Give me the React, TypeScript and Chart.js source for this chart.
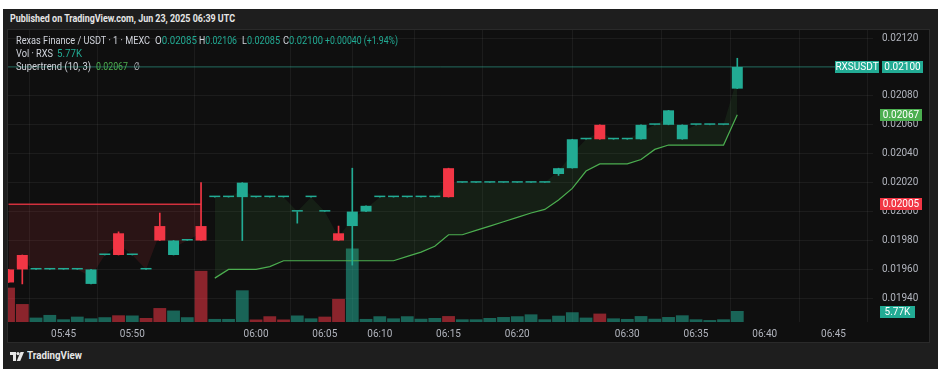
import React, { useEffect, useLayoutEffect, useRef } from "react";
import { Chart, registerables } from "chart.js";

Chart.register(...registerables);

// ---------------- DATA ----------------
const TIMES = [
  "05:41", "05:42", "05:43", "05:44", "05:45", "05:46", "05:47", "05:48", "05:49", "05:50",
  "05:51", "05:52", "05:53", "05:54", "05:56", "05:57", "05:58", "05:59", "06:00", "06:01",
  "06:02", "06:03", "06:04", "06:05", "06:06", "06:07", "06:09", "06:10", "06:11", "06:12",
  "06:13", "06:14", "06:15", "06:16", "06:17", "06:18", "06:19", "06:20", "06:21", "06:22",
  "06:23", "06:26", "06:27", "06:28", "06:29", "06:30", "06:31", "06:32", "06:33", "06:34",
  "06:35", "06:36", "06:37", "06:38",
];

const OPEN = [
  0.01960, 0.01970, 0.01960, 0.01960, 0.01960, 0.01960, 0.01950, 0.01970, 0.01985, 0.01970,
  0.01960, 0.01990, 0.01970, 0.01980, 0.01990, 0.02010, 0.02010, 0.02010, 0.02010, 0.02010,
  0.02010, 0.02000, 0.02010, 0.02000, 0.01985, 0.01990, 0.02000, 0.02010, 0.02010, 0.02010,
  0.02010, 0.02010, 0.02030, 0.02020, 0.02020, 0.02020, 0.02020, 0.02020, 0.02020, 0.02020,
  0.02026, 0.02030, 0.02050, 0.02060, 0.02050, 0.02050, 0.02050, 0.02060, 0.02060, 0.02050,
  0.02060, 0.02060, 0.02060, 0.02085,
];
const HIGH = [
  0.01960, 0.01970, 0.01960, 0.01960, 0.01960, 0.01960, 0.01960, 0.01970, 0.01986, 0.01970,
  0.01960, 0.01999, 0.01980, 0.01980, 0.02020, 0.02010, 0.02010, 0.02020, 0.02010, 0.02010,
  0.02010, 0.02000, 0.02010, 0.02000, 0.01990, 0.02030, 0.02004, 0.02010, 0.02010, 0.02010,
  0.02010, 0.02010, 0.02030, 0.02020, 0.02020, 0.02020, 0.02020, 0.02020, 0.02020, 0.02020,
  0.02030, 0.02050, 0.02050, 0.02060, 0.02050, 0.02050, 0.02060, 0.02060, 0.02070, 0.02060,
  0.02060, 0.02060, 0.02060, 0.02106,
];
const LOW = [
  0.01951, 0.01950, 0.01960, 0.01960, 0.01960, 0.01960, 0.01950, 0.01970, 0.01970, 0.01970,
  0.01960, 0.01980, 0.01970, 0.01980, 0.01980, 0.02010, 0.02010, 0.01980, 0.02010, 0.02010,
  0.02010, 0.01992, 0.02010, 0.02000, 0.01980, 0.01963, 0.02000, 0.02010, 0.02010, 0.02010,
  0.02010, 0.02010, 0.02010, 0.02020, 0.02020, 0.02020, 0.02020, 0.02020, 0.02020, 0.02020,
  0.02025, 0.02030, 0.02050, 0.02050, 0.02050, 0.02050, 0.02050, 0.02060, 0.02060, 0.02050,
  0.02060, 0.02060, 0.02060, 0.02085,
];
const CLOSE = [
  0.01951, 0.01960, 0.01960, 0.01960, 0.01960, 0.01960, 0.01960, 0.01970, 0.01970, 0.01970,
  0.01960, 0.01980, 0.01980, 0.01980, 0.01980, 0.02010, 0.02010, 0.02020, 0.02010, 0.02010,
  0.02010, 0.02000, 0.02010, 0.02000, 0.01980, 0.02000, 0.02004, 0.02010, 0.02010, 0.02010,
  0.02010, 0.02010, 0.02010, 0.02020, 0.02020, 0.02020, 0.02020, 0.02020, 0.02020, 0.02020,
  0.02030, 0.02050, 0.02050, 0.02050, 0.02050, 0.02050, 0.02060, 0.02060, 0.02070, 0.02060,
  0.02060, 0.02060, 0.02060, 0.02100,
];

// volume in thousands of RXS
const VOLUME = [
  18.0, 9.4, 2.3, 3.7, 1.4, 2.8, 1.9, 2.5, 3.5, 3.4,
  2.1, 7.3, 6.0, 2.5, 26.8, 1.6, 1.6, 16.6, 1.3, 3.0,
  1.3, 3.4, 1.9, 2.8, 12.1, 38.5, 1.6, 3.0, 1.9, 3.0,
  1.7, 2.1, 3.1, 1.4, 1.4, 2.1, 2.6, 3.0, 4.0, 1.4,
  3.3, 5.1, 2.3, 4.4, 1.9, 1.6, 3.1, 1.7, 2.6, 3.5,
  1.4, 1.0, 1.4, 5.77,
];
// 1 = rising volume bar, 0 = falling
const VOLUME_UP = [
  0, 0, 1, 1, 1, 1, 1, 1, 0, 1,
  0, 0, 1, 1, 0, 1, 1, 1, 0, 0,
  0, 1, 1, 0, 0, 1, 1, 1, 1, 1,
  1, 1, 0, 1, 1, 1, 1, 1, 1, 1,
  1, 1, 1, 0, 1, 1, 1, 1, 1, 1,
  1, 1, 1, 1,
];

const SUPERTREND_DOWN = [
  0.02005, 0.02005, 0.02005, 0.02005, 0.02005, 0.02005, 0.02005, 0.02005, 0.02005, 0.02005,
  0.02005, 0.02005, 0.02005, 0.02005, 0.02005, null, null, null, null, null,
  null, null, null, null, null, null, null, null, null, null,
  null, null, null, null, null, null, null, null, null, null,
  null, null, null, null, null, null, null, null, null, null,
  null, null, null, null,
];
const SUPERTREND_UP = [
  null, null, null, null, null, null, null, null, null, null,
  null, null, null, null, null, 0.01954, 0.01960, 0.01960, 0.01960, 0.01962,
  0.01966, 0.01966, 0.01966, 0.01966, 0.01966, 0.01966, 0.01966, 0.01966, 0.01966, 0.01969,
  0.01972, 0.01976, 0.01984, 0.01984, 0.01987, 0.01990, 0.01993, 0.01996, 0.01999, 0.020015,
  0.02008, 0.02016, 0.02028, 0.02033, 0.02033, 0.02033, 0.02036, 0.02043, 0.02046, 0.02046,
  0.02046, 0.02046, 0.02046, 0.02067,
];

const PRICE_TICKS = [0.0194, 0.0196, 0.0198, 0.0200, 0.0202, 0.0204, 0.0206, 0.0208, 0.0210, 0.0212];
const TIME_TICKS = ["05:45", "05:50", "06:00", "06:05", "06:10", "06:15", "06:20", "06:30", "06:35", "06:40", "06:45"];

const SYMBOL = "RXSUSDT";
const LAST_PRICE = 0.021;
const ST_UP_LAST = 0.02067;
const ST_DOWN_LAST = 0.02005;
const LAST_VOLUME = 5.77;
const LAST_VOLUME_LABEL = "5.77K";

// ---------------- STYLE ----------------
const UP = "#22ab94";
const DOWN = "#f23645";
const ST_GREEN = "#4caf50";
const TICK_COLOR = "#b2b5be";
const GRID = "rgba(242,242,242,0.06)";
const FONT = "Roboto, 'Noto Sans', sans-serif";

const toMin = (t: string) => {
  const [h, m] = t.split(":").map(Number);
  return h * 60 + m;
};
const tickIndex = (t: string) => {
  const i = TIMES.indexOf(t);
  if (i >= 0) return i;
  const last = TIMES.length - 1;
  return last + (toMin(t) - toMin(TIMES[last]));
};

const axisBoxes = {
  id: "axisBoxes",
  afterDraw(chart: any) {
    const { ctx, scales } = chart;
    const ys = scales.y;
    const yv = scales.yv;
    const left = ys.left;
    ctx.save();
    ctx.font = `10px ${FONT}`;
    ctx.textBaseline = "middle";
    ctx.textAlign = "center";
    const box = (text: string, yPix: number, x: number, w: number, bg: string) => {
      const yc = Math.round(yPix);
      ctx.fillStyle = bg;
      ctx.fillRect(x, yc - 6, w, 12);
      ctx.fillStyle = "#ffffff";
      ctx.fillText(text, x + w / 2, yc + 0.5);
    };
    const yLast = ys.getPixelForValue(LAST_PRICE);
    box(SYMBOL, yLast, left - 38, 44, UP);
    box(LAST_PRICE.toFixed(5), yLast, left + 9, 41, UP);
    box(ST_UP_LAST.toFixed(5), ys.getPixelForValue(ST_UP_LAST), left + 7, 42, ST_GREEN);
    box(ST_DOWN_LAST.toFixed(5), ys.getPixelForValue(ST_DOWN_LAST), left + 7, 42, DOWN);
    box(LAST_VOLUME_LABEL, yv.getPixelForValue(LAST_VOLUME) + 1, left + 7, 35, UP);
    ctx.restore();
  },
};

function Fit({ w, x, y, size = 11, color = "#d1d4dc", weight = 400, children }: any) {
  const ref = useRef<HTMLSpanElement>(null);
  useLayoutEffect(() => {
    const el = ref.current;
    if (!el) return;
    el.style.transform = "none";
    const natural = el.getBoundingClientRect().width;
    if (natural > 0) el.style.transform = `scaleX(${w / natural})`;
  }, [w]);
  return (
    <span
      ref={ref}
      style={{
        position: "absolute",
        left: x,
        top: y - 7,
        height: 14,
        lineHeight: "14px",
        fontSize: size,
        fontWeight: weight,
        color,
        whiteSpace: "nowrap",
        display: "inline-block",
        transformOrigin: "0 50%",
        fontFamily: FONT,
        zIndex: 5,
      }}
    >
      {children}
    </span>
  );
}

export default function App() {
  const canvasRef = useRef<HTMLCanvasElement>(null);

  useEffect(() => {
    const canvas = canvasRef.current;
    if (!canvas) return;
    const idx = OPEN.map((_, i) => i);
    const bodyMid = OPEN.map((o, i) => (o + CLOSE[i]) / 2);
    const midDown = idx.map((i) => ({ x: i, y: SUPERTREND_DOWN[i] == null ? null : bodyMid[i] }));
    const midUp = idx.map((i) => ({ x: i, y: SUPERTREND_UP[i] == null ? null : bodyMid[i] }));
    const candleColor = idx.map((i) => (CLOSE[i] >= OPEN[i] ? UP : DOWN));

    const xMin = -0.04;
    const xMax = 62.87;

    const chart = new Chart(canvas, {
      type: "bar",
      data: {
        datasets: [
          {
            type: "bar",
            label: "volume",
            yAxisID: "yv",
            data: idx.map((i) => ({ x: i, y: VOLUME[i] })),
            backgroundColor: idx.map((i) => (VOLUME_UP[i] ? "rgba(34,171,148,0.55)" : "rgba(242,54,69,0.55)")),
            grouped: false,
            categoryPercentage: 1,
            barPercentage: 0.93,
            order: 10,
          } as any,
          {
            type: "line",
            label: "midDown",
            yAxisID: "y",
            data: midDown,
            borderWidth: 0,
            borderColor: "rgba(0,0,0,0)",
            pointRadius: 0,
            fill: false,
            order: 8,
          },
          {
            type: "line",
            label: "down",
            yAxisID: "y",
            data: idx.map((i) => ({ x: i, y: SUPERTREND_DOWN[i] })),
            borderColor: "rgba(242,54,69,0.85)",
            borderWidth: 1.5,
            pointRadius: 0,
            fill: { target: 1 },
            backgroundColor: "rgba(242,54,69,0.12)",
            order: 7,
          },
          {
            type: "line",
            label: "midUp",
            yAxisID: "y",
            data: midUp,
            borderWidth: 0,
            borderColor: "rgba(0,0,0,0)",
            pointRadius: 0,
            fill: false,
            order: 6,
          },
          {
            type: "line",
            label: "up",
            yAxisID: "y",
            data: idx.map((i) => ({ x: i, y: SUPERTREND_UP[i] })),
            borderColor: ST_GREEN,
            borderWidth: 1.2,
            pointRadius: 0,
            fill: { target: 3 },
            backgroundColor: "rgba(76,175,80,0.1)",
            order: 5,
          },
          {
            type: "line",
            label: "last",
            yAxisID: "y",
            data: [
              { x: -5, y: LAST_PRICE },
              { x: 100, y: LAST_PRICE },
            ],
            borderColor: "rgba(34,171,148,0.55)",
            borderWidth: 1,
            pointRadius: 0,
            fill: false,
            order: 4,
          },
          {
            type: "bar",
            label: "wick",
            yAxisID: "y",
            data: idx.map((i) => ({ x: i, y: [LOW[i], HIGH[i]] })),
            backgroundColor: candleColor,
            grouped: false,
            categoryPercentage: 1,
            barPercentage: 1,
            maxBarThickness: 1,
            order: 2,
          } as any,
          {
            type: "bar",
            label: "body",
            yAxisID: "y",
            data: idx.map((i) => ({ x: i, y: [OPEN[i], CLOSE[i]] })),
            backgroundColor: candleColor,
            grouped: false,
            categoryPercentage: 1,
            barPercentage: 0.8,
            minBarLength: 1.5,
            order: 1,
          } as any,
        ],
      },
      options: {
        responsive: false,
        animation: false,
        devicePixelRatio: 1,
        layout: { padding: 0 },
        plugins: { legend: { display: false }, tooltip: { enabled: false } },
        scales: {
          x: {
            type: "linear",
            min: xMin,
            max: xMax,
            offset: false,
            grid: { color: GRID, drawTicks: false },
            border: { display: false },
            ticks: {
              color: TICK_COLOR,
              font: { family: FONT, size: 10 },
              padding: 6,
              maxRotation: 0,
              autoSkip: false,
              callback: (v: any) => {
                const t = TIME_TICKS.find((s) => tickIndex(s) === v);
                return t ?? "";
              },
            },
            afterBuildTicks: (scale: any) => {
              scale.ticks = TIME_TICKS.map((t) => ({ value: tickIndex(t) }));
            },
            afterFit: (scale: any) => {
              scale.height = 20;
              scale.paddingLeft = 0;
              scale.paddingRight = 0;
            },
          },
          y: {
            type: "linear",
            position: "right",
            min: 0.0192367,
            max: 0.0212554,
            grid: { color: GRID, drawTicks: false },
            border: { display: false },
            ticks: {
              color: TICK_COLOR,
              font: { family: FONT, size: 10 },
              padding: 9,
              crossAlign: "near",
              callback: (v: any) => Number(v).toFixed(5),
            },
            afterBuildTicks: (scale: any) => {
              scale.ticks = PRICE_TICKS.map((v) => ({ value: v }));
            },
            afterFit: (scale: any) => {
              scale.width = 56;
              scale.paddingTop = 0;
              scale.paddingBottom = 0;
            },
          },
          yv: {
            type: "linear",
            display: false,
            min: 0,
            max: 153,
          },
        },
      } as any,
      plugins: [axisBoxes],
    });
    return () => chart.destroy();
  }, []);

  return (
    <div
      style={{
        position: "absolute",
        left: 0,
        top: 0,
        width: 943,
        height: 383,
        background: "#ffffff",
        overflow: "hidden",
        fontFamily: FONT,
      }}
    >
      <div style={{ position: "absolute", left: 3, top: 9, width: 935, height: 360, background: "#1e1e1e" }} />
      <Fit x={10} y={19} w={225} size={11} weight={700} color="#e6e6e6">
        Published on TradingView.com, Jun 23, 2025 06:39 UTC
      </Fit>
      <div
        style={{
          position: "absolute",
          left: 7,
          top: 29,
          width: 921,
          height: 312,
          border: "1px solid #2a2a2a",
          background: "#0f0f0f",
        }}
      >
        <canvas ref={canvasRef} width={921} height={312} style={{ display: "block", width: 921, height: 312 }} />
      </div>

      {/* legend */}
      <Fit x={16} y={41} w={134}>Rexas Finance / USDT · 1 · MEXC</Fit>
      <Fit x={155} y={41} w={42}>
        O<span style={{ color: UP }}>0.02085</span>
      </Fit>
      <Fit x={199} y={41} w={38}>
        H<span style={{ color: UP }}>0.02106</span>
      </Fit>
      <Fit x={242} y={41} w={38}>
        L<span style={{ color: UP }}>0.02085</span>
      </Fit>
      <Fit x={283} y={41} w={40}>
        C<span style={{ color: UP }}>0.02100</span>
      </Fit>
      <Fit x={325} y={41} w={73} color={UP}>+0.00040 (+1.94%)</Fit>
      <Fit x={16} y={54} w={37}>Vol · RXS</Fit>
      <Fit x={57} y={54} w={25} color={UP}>5.77K</Fit>
      <Fit x={16} y={67} w={75}>Supertrend (10, 3)</Fit>
      <Fit x={96} y={67} w={32} color={ST_GREEN}>0.02067</Fit>
      <Fit x={134} y={67} w={6}>∅</Fit>

      {/* footer logo */}
      <svg
        style={{ position: "absolute", left: 10, top: 352, zIndex: 5 }}
        width={14}
        height={9}
        viewBox="0 0 14 9"
      >
        <path d="M0 0h6v9H3V3H0z" fill="#e6e6e6" />
        <circle cx={8} cy={1.6} r={1.6} fill="#e6e6e6" />
        <path d="M10.5 0H14L10.2 9H6.7z" fill="#e6e6e6" />
      </svg>
      <Fit x={27} y={356} w={55} size={11} weight={700} color="#e6e6e6">
        TradingView
      </Fit>
    </div>
  );
}
